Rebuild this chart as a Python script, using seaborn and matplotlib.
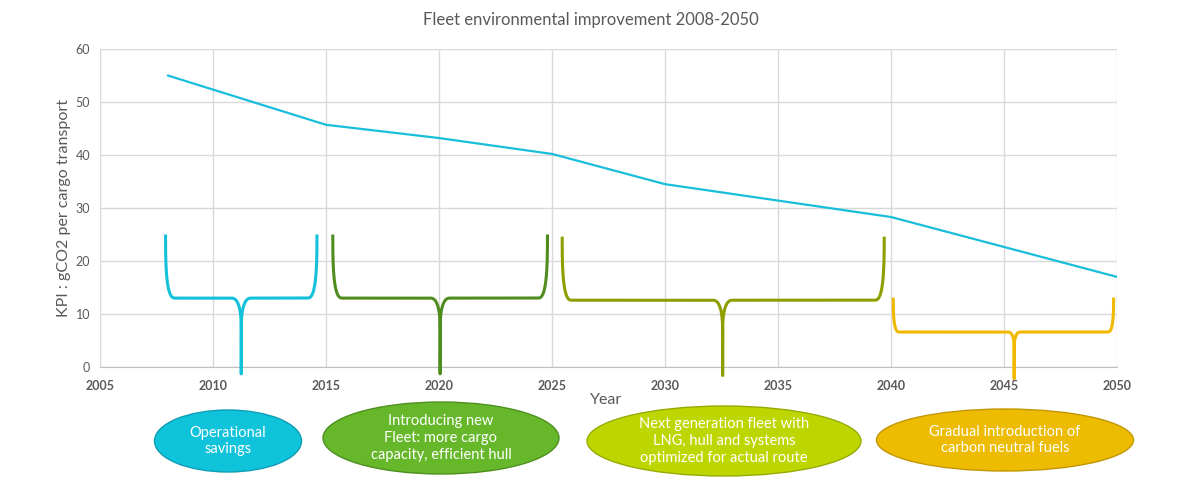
import numpy as np
import pandas as pd
import matplotlib
import matplotlib.pyplot as plt
from matplotlib.patches import Ellipse
import seaborn as sns

matplotlib.use("Agg")

# ── Data ──────────────────────────────────────────────────────────────────────
years = [2008, 2015, 2020, 2025, 2030, 2040, 2050]
kpi = [55.0, 45.7, 43.2, 40.2, 34.5, 28.3, 17.0]

# curly braces marking each phase (x in years, y in KPI units)
brace_start = [2007.9, 2015.3, 2025.45, 2040.1]
brace_end = [2014.6, 2024.8, 2039.7, 2049.85]
brace_tip = [2011.25, 2020.05, 2032.55, 2045.45]
brace_top = [25.0, 25.0, 24.6, 13.1]
brace_mid = [13.0, 13.0, 12.6, 6.6]
brace_bottom = [-1.3, -1.3, -1.6, -2.2]

phase_labels = [
    "Operational\nsavings",
    "Introducing new\nFleet: more cargo\ncapacity, efficient hull",
    "Next generation fleet with\nLNG, hull and systems\noptimized for actual route",
    "Gradual introduction of\ncarbon neutral fuels",
]

# ── Style ─────────────────────────────────────────────────────────────────────
W, H = 1187, 486
LINE_COLOR = "#19BEDB"
BRACE_COLORS = ["#13C1DA", "#4F8C1E", "#8E9E00", "#F0B900"]
BRACE_CURL = [0.44, 0.44, 0.44, 0.28]
ELLIPSE_FILL = ["#0FC3DB", "#66B82A", "#BED600", "#EDBB00"]
ELLIPSE_EDGE = ["#0E9EB4", "#4E8F1F", "#98AA00", "#C29600"]
# ellipse boxes in figure pixels: centre x, centre y, width, height
ELLIPSE_BOX = [
    (228, 441, 147, 62),
    (441, 438, 236, 72),
    (724, 441, 274, 70),
    (1005, 440, 257, 62),
]
TEXT_GREY = "#595959"
FONT = ["Lato", "DejaVu Sans"]


def _corner(a, c, b, n=50, power=0.7):
    """Rounded corner from a to b hugging the corner point c."""
    a, b, c = (np.asarray(p, dtype=float) for p in (a, b, c))
    o = a + b - c
    t = np.linspace(0, np.pi / 2, n)
    return o + np.outer(np.cos(t) ** power, a - o) + np.outer(np.sin(t) ** power, b - o)


def _half_brace(x0, tip, top, mid, bottom, rx):
    sign = 1 if tip > x0 else -1
    ry2 = 0.5 * (top - mid)
    rx2 = 1.0 * rx
    pts = [_corner((x0, top), (x0, mid), (x0 + sign * rx, mid))]
    pts.append(_corner((tip - sign * rx2, mid), (tip, mid), (tip, mid - ry2),
                       power=0.8))
    pts.append(np.array([[tip, bottom]]))
    return np.vstack(pts)


def brace_path(start, end, tip, top, mid, bottom, rx):
    left = _half_brace(start, tip, top, mid, bottom, rx)
    right = _half_brace(end, tip, top, mid, bottom, rx)
    return np.vstack([left, right[::-1]])


# ── Figure ────────────────────────────────────────────────────────────────────
sns.set_style("white")
plt.rcParams["font.family"] = FONT

fig = plt.figure(figsize=(W / 100, H / 100), dpi=100)
ax = fig.add_axes([100 / W, 1 - 367 / H, 1017 / W, 318 / H])

line_df = pd.DataFrame({"year": years, "kpi": kpi})
sns.lineplot(data=line_df, x="year", y="kpi", ax=ax, color=LINE_COLOR,
             linewidth=1.6, sort=False, estimator=None, zorder=3)

for i in range(len(brace_start)):
    path = brace_path(brace_start[i], brace_end[i], brace_tip[i],
                      brace_top[i], brace_mid[i], brace_bottom[i], BRACE_CURL[i])
    sns.lineplot(x=path[:, 0], y=path[:, 1], ax=ax, sort=False, estimator=None,
                 color=BRACE_COLORS[i], linewidth=2.2, clip_on=False,
                 solid_capstyle="butt", solid_joinstyle="round", zorder=4)

ax.set_xlim(2005, 2050)
ax.set_ylim(0, 60)
ax.set_xticks(range(2005, 2051, 5))
ax.set_yticks(range(0, 61, 10))
ax.grid(True, color="#D9D9D9", linewidth=1.0)
ax.set_axisbelow(True)
for side in ["top", "right"]:
    ax.spines[side].set_visible(False)
ax.spines["left"].set_color("#D9D9D9")
ax.spines["bottom"].set_color("#BFBFBF")
ax.tick_params(axis="both", length=0, colors=TEXT_GREY)
ax.tick_params(axis="y", labelsize=9, pad=7)
ax.tick_params(axis="x", labelsize=9, pad=9)
for lbl in ax.get_xticklabels():
    lbl.set_fontweight("bold")

ax.set_xlabel("")
ax.set_ylabel("KPI : gCO2 per cargo transport", fontsize=11.5,
              color=TEXT_GREY, labelpad=3)
fig.text(606 / W, 1 - 400 / H, "Year", ha="center", va="center",
         fontsize=11.5, color=TEXT_GREY)
fig.text(591 / W, 1 - 20 / H, "Fleet environmental improvement 2008-2050",
         ha="center", va="center", fontsize=12, color=TEXT_GREY)

for (cx, cy, w, h), fill, edge, label in zip(ELLIPSE_BOX, ELLIPSE_FILL,
                                             ELLIPSE_EDGE, phase_labels):
    fig.add_artist(Ellipse((cx / W, 1 - cy / H), w / W, h / H,
                           transform=fig.transFigure, facecolor=fill,
                           edgecolor=edge, linewidth=1.0))
    fig.text(cx / W, 1 - cy / H, label, ha="center", va="center",
             color="white", fontsize=10.5, linespacing=1.25)

fig.savefig("out.png", dpi=100)
